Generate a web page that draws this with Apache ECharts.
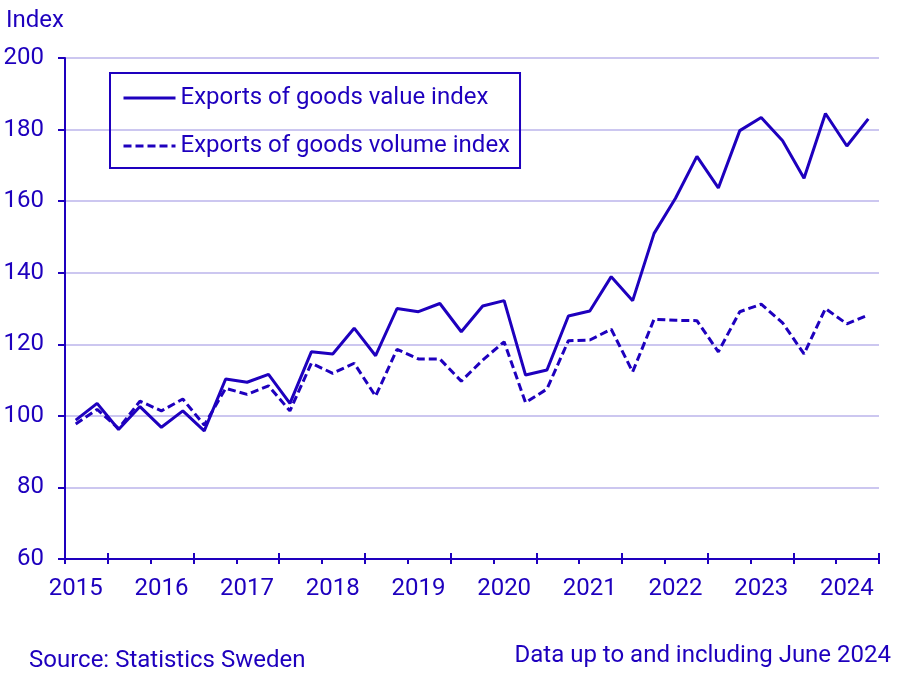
<!DOCTYPE html>
<html>
<head>
<meta charset="utf-8">
<script src="https://cdn.jsdelivr.net/npm/echarts@6/dist/echarts.min.js"></script>
<style>
html,body{margin:0;padding:0;background:#fff;}
#chart{width:907px;height:680px;}
</style>
</head>
<body>
<div id="chart"></div>
<script>
var quarters = [];
var years = ['2015','2016','2017','2018','2019','2020','2021','2022','2023','2024'];
years.forEach(function (y) { ['Q1','Q2','Q3','Q4'].forEach(function (q) { quarters.push(y + ' ' + q); }); });
quarters = quarters.slice(0, 38); // up to 2024 Q2

var valueIndex = [98.8, 103.5, 96.2, 102.6, 96.8, 101.4, 95.8, 110.3, 109.4, 111.6,
  103.5, 117.9, 117.3, 124.5, 116.8, 130.0, 129.1, 131.4, 123.5, 130.7,
  132.2, 111.4, 112.8, 127.9, 129.3, 138.9, 132.2, 151.0, 160.8, 172.5,
  163.7, 179.7, 183.4, 176.9, 166.4, 184.5, 175.4, 183.0];
var volumeIndex = [97.7, 101.8, 96.5, 104.1, 101.4, 104.7, 97.4, 107.7, 106.0, 108.4,
  101.4, 114.7, 111.9, 114.7, 105.5, 118.6, 115.9, 115.9, 109.7, 115.6,
  120.7, 103.7, 107.5, 121.0, 121.2, 124.2, 112.3, 127.0, 126.7, 126.6,
  117.9, 129.1, 131.2, 126.0, 117.3, 130.0, 125.7, 128.2];

var C = '#1E00BE';
var GRID = '#CCC7F0';
var FONT = 'Roboto';
var FS = 24;

var chart = echarts.init(document.getElementById('chart'), null, {renderer: 'canvas'});
chart.setOption({
  animation: false,
  backgroundColor: '#ffffff',
  textStyle: {fontFamily: FONT, color: C},
  title: [
    {text: 'Index', left: 1, top: 4, textStyle: {fontFamily: FONT, fontSize: FS, fontWeight: 'normal', color: C}},
    {text: 'Source: Statistics Sweden', left: 24, top: 644, textStyle: {fontFamily: FONT, fontSize: FS, fontWeight: 'normal', color: C}},
    {text: 'Data up to and including June 2024', right: 11, top: 639, textStyle: {fontFamily: FONT, fontSize: FS, fontWeight: 'normal', color: C}}
  ],
  legend: {
    orient: 'vertical',
    left: 110, top: 73,
    padding: [13, 10, 10, 12],
    itemGap: 24,
    itemWidth: 52, itemHeight: 24,
    borderColor: C, borderWidth: 2,
    itemStyle: {opacity: 0},
    lineStyle: {width: 3},
    textStyle: {fontFamily: FONT, fontSize: FS, color: C, padding: [0, 0, 0, 0]},
    data: ['Exports of goods value index', 'Exports of goods volume index']
  },
  grid: {left: 65, right: 28, top: 58, bottom: 121, containLabel: false},
  xAxis: [
    {
      type: 'category', data: quarters, boundaryGap: true, position: 'bottom',
      axisLine: {show: true, lineStyle: {color: C, width: 2}},
      axisTick: {show: true, length: 5, interval: function (i) { return i % 4 === 0; }, lineStyle: {color: C, width: 2}},
      axisLabel: {show: true, interval: function (i) { return i % 4 === 0; }, formatter: function (v) { return v.slice(0, 4); },
        margin: 18, fontFamily: FONT, fontSize: FS, color: C},
      splitLine: {show: false}
    },
    {
      type: 'category', data: quarters, boundaryGap: true, position: 'bottom',
      axisLine: {show: false},
      axisTick: {show: true, inside: false, length: 5, interval: function (i) { return i % 4 === 2; }, lineStyle: {color: C, width: 2}},
      axisLabel: {show: false},
      splitLine: {show: false}
    },
    {
      type: 'category', data: quarters, boundaryGap: true, position: 'bottom',
      axisLine: {show: false},
      axisTick: {show: true, inside: true, length: 6, interval: function (i) { return i % 4 === 2; }, lineStyle: {color: C, width: 2}},
      axisLabel: {show: false},
      splitLine: {show: false}
    }
  ],
  yAxis: {
    type: 'value', min: 60, max: 200, interval: 20,
    axisLine: {show: true, lineStyle: {color: C, width: 2}},
    axisTick: {show: true, length: 7, lineStyle: {color: C, width: 2}},
    axisLabel: {margin: 21, fontFamily: FONT, fontSize: FS, color: C},
    splitLine: {show: true, lineStyle: {color: GRID, width: 2}}
  },
  series: [
    {
      name: 'Exports of goods value index', type: 'line', data: valueIndex, xAxisIndex: 0,
      symbol: 'none', lineStyle: {color: C, width: 3, type: 'solid'}, itemStyle: {color: C}, z: 3
    },
    {
      name: 'Exports of goods volume index', type: 'line', data: volumeIndex, xAxisIndex: 0,
      symbol: 'none', lineStyle: {color: C, width: 3, type: [8, 4]}, itemStyle: {color: C}, z: 2
    }
  ]
});
</script>
</body>
</html>
